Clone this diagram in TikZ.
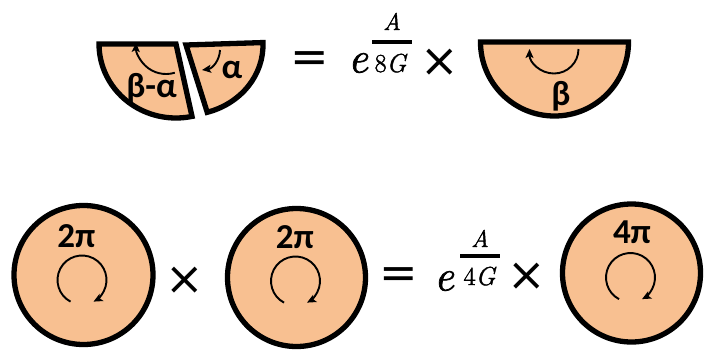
\documentclass[tikz,border=0pt]{standalone}
\usepackage{fontspec}
\setmainfont{Latin Modern Roman}
\newfontfamily\eqfont{Latin Modern Roman}[FakeBold=1.6]
\newfontfamily\lblfont{Carlito}
\newfontfamily\symfont{DejaVu Sans}
\usetikzlibrary{arrows.meta}
\definecolor{peach}{RGB}{248,192,145}
\begin{document}
\begin{tikzpicture}[x=1pt,y=1pt,
  piece/.style={fill=peach,draw=black,line width=5.3pt},
  turn/.style={line width=1.9pt,-{Stealth[length=9pt,width=8pt,inset=2pt]}},
  lbl/.style={inner sep=0pt,anchor=base,font=\lblfont\bfseries\fontsize{35}{40}\selectfont},
  sym/.style={inner sep=0pt,font=\symfont\fontsize{46}{50}\selectfont},
  mth/.style={inner sep=0pt,anchor=base},
  fracbar/.style={line width=3.2pt}]
\useasboundingbox (0,0) rectangle (710,-360);

% ---------- top row ----------
% left piece (beta - alpha)
\draw[piece] (176,-44) -- (99,-44) arc[start angle=180,end angle=282,x radius=77,y radius=74] -- cycle;
% right piece (alpha)
\draw[piece] (186,-45) -- ++(2:77 and 70) arc[start angle=2,end angle=-74,x radius=77,y radius=70] -- cycle;
\draw[turn] (174.8,-72.7) arc[start angle=-73,end angle=-182,radius=30];
\draw[turn] (220,-50) to[bend left=40] (202,-70);
\node[lbl] (ba) at (151.5,-97) {β-α};
\node[lbl] (al) at (232,-78) {α};

\node[sym] (eq1) at (310,-62) {=};
\node[mth,font=\eqfont\fontsize{44}{50}\selectfont\itshape] (e1) at (358,-72.5) {e};
\draw[fracbar] (372,-42) -- (412,-42);
\node[mth,font=\eqfont\fontsize{24}{28}\selectfont\itshape] (a1) at (392,-30) {A};
\node[mth,font=\eqfont\fontsize{26}{30}\selectfont] (d1) at (391,-72) {8\textit{G}};
\node[sym] (x1) at (440,-63) {×};

% half disk (beta)
\draw[piece] (480.5,-42) arc[start angle=180,end angle=360,radius=74] -- cycle;
\draw[turn] (578.5,-49) arc[start angle=0,end angle=-180,radius=24.5];
\node[lbl] (be) at (561,-105) {β};

% ---------- bottom row ----------
\draw[piece] (83.5,-275) circle[radius=69.5];
\draw[turn] (82,-280) ++(242:24.5) arc[start angle=242,end angle=-62,radius=24.5];
\node[lbl] (t1) at (76.5,-247.5) {2π};

\node[sym] (x2) at (185,-281) {×};

\draw[piece] (296.5,-277.5) circle[radius=69];
\draw[turn] (295.5,-281) ++(242:24.5) arc[start angle=242,end angle=-62,radius=24.5];
\node[lbl] (t2) at (295,-248) {2π};

\node[sym] (eq2) at (399,-278) {=};
\node[mth,font=\eqfont\fontsize{44}{50}\selectfont\itshape] (e2) at (444,-290.5) {e};
\draw[fracbar] (460,-256) -- (500,-256);
\node[mth,font=\eqfont\fontsize{24}{28}\selectfont\itshape] (a2) at (480,-247) {A};
\node[mth,font=\eqfont\fontsize{26}{30}\selectfont] (d2) at (480,-285) {4\textit{G}};
\node[sym] (x3) at (527,-277) {×};

\draw[piece] (631.5,-273) circle[radius=69];
\draw[turn] (630.5,-277.5) ++(242:24.5) arc[start angle=242,end angle=-62,radius=24.5];
\node[lbl] (t3) at (632,-243) {4π};
\end{tikzpicture}
\end{document}
